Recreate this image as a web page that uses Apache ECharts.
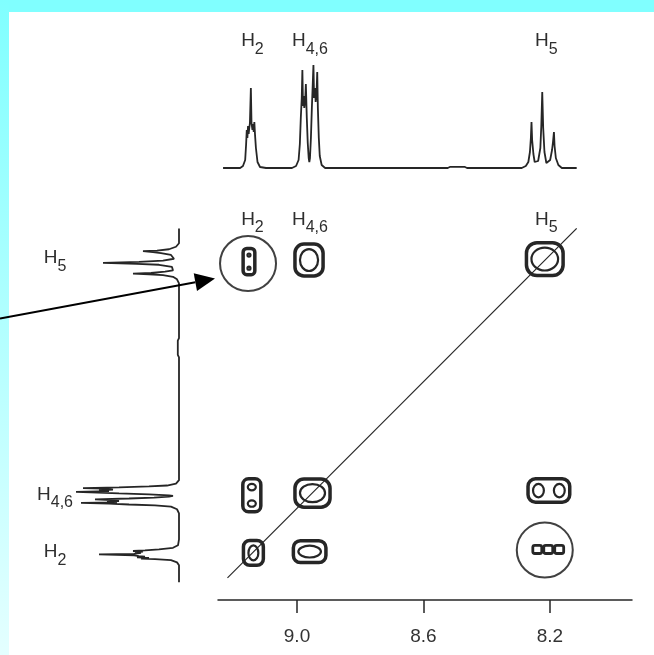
<!DOCTYPE html>
<html><head><meta charset="utf-8">
<script src="https://cdn.jsdelivr.net/npm/echarts@6/dist/echarts.min.js"></script>
<style>
html,body{margin:0;padding:0;background:#fff;overflow:hidden;}
#bandTop{position:absolute;left:0;top:0;width:654px;height:12px;background:#80ffff;}
#bandLeft{position:absolute;left:0;top:0;width:9px;height:655px;background:linear-gradient(#80ffff,#e4ffff);}
#main{position:absolute;left:0;top:0;width:654px;height:655px;}
</style></head><body>
<div id="bandTop"></div><div id="bandLeft"></div><div id="main"></div>
<script>
// ---- data ----
const labelSub = ['2', '4,6', '5'];            // H2, H4,6, H5
const labelPpm = [9.141, 8.959, 8.211];
const tickValues = [9.0, 8.6, 8.2];
// 1D spectrum trace (ppm, intensity)
const tracePpm = [9.234,9.180,9.171,9.164,9.161,9.159,9.157,9.155,9.153,9.151,9.149,9.146,9.144,9.141,9.139,9.137,9.135,9.133,9.130,9.125,9.117,9.098,
  9.016,9.003,8.995,8.991,8.988,8.985,8.983,8.981,8.979,8.977,8.974,8.972,8.969,8.966,8.963,8.961,8.959,8.956,8.953,8.948,8.946,8.943,8.941,8.938,8.936,8.934,8.931,8.928,8.922,8.911,
  8.523,8.515,8.470,8.462,
  8.289,8.276,8.268,8.263,8.260,8.258,8.256,8.252,8.248,8.243,8.237,8.230,8.227,8.224,8.221,8.217,8.211,8.205,8.199,8.193,8.190,8.187,8.185,8.181,8.173,8.162,8.115];
const traceInt = [0,0,2,8,24,38,30,42,34,40,45,80,45,38,44,36,46,34,20,6,1,0,
  0,2,8,24,50,70,98,62,72,60,68,84,50,25,10,6,10,30,60,103,70,80,66,76,96,60,30,12,3,0,
  0,1.2,1.2,0,
  0,2,6,16,30,46,28,14,6,4,7,20,42,76,40,16,5,4,8,18,26,36,22,10,3,0,0];
// COSY cross peaks: centre (F2, F1) and extent in ppm
const crossX = [9.152, 8.962, 8.216, 9.143, 8.951, 8.203, 9.138, 8.960, 8.205];
const crossY = [8.220, 8.215, 8.212, 8.959, 8.952, 8.944, 9.141, 9.137, 9.130];
const crossW = [0.037, 0.089, 0.116, 0.057, 0.111, 0.132, 0.063, 0.103, 0.104];
const crossH = [0.083, 0.101, 0.104, 0.104, 0.089, 0.074, 0.079, 0.069, 0.026];
const diagPpm = [9.22, 8.115];
const circleX = [9.155, 8.216];
const circleY = [8.226, 9.132];

// ---- chart ----
const FF = '"Liberation Sans", Arial, Helvetica, sans-serif';
const INK = '#262626';
const chart = echarts.init(document.getElementById('main'), null, {renderer: 'canvas'});

function richLabel(sub, x, y) {
  return {
    type: 'text',
    style: {
      text: '{h|H}{s|' + sub + '}', x: x, y: y, align: 'center', verticalAlign: 'middle',
      rich: {
        h: {fontSize: 19, fontFamily: FF, fill: '#2e2e2e', padding: [0, 0, 7, 0], verticalAlign: 'top'},
        s: {fontSize: 16, fontFamily: FF, fill: '#2e2e2e', verticalAlign: 'bottom'}
      }
    }
  };
}

function renderCross(params, api) {
  const c = api.coord([api.value(0), api.value(1)]);
  const s = api.size([api.value(2), api.value(3)]);
  const w = Math.abs(s[0]), h = Math.abs(s[1]);
  const nx = Math.max(1, Math.min(3, Math.round(w / h)));
  const ny = Math.max(1, Math.min(3, Math.round(h / w)));
  const children = [];
  const x0 = c[0] - w / 2, y0 = c[1] - h / 2;
  if (nx < 3) {
    children.push({type: 'rect', shape: {x: x0, y: y0, width: w, height: h, r: Math.min(w, h) * 0.32},
      style: {fill: 'none', stroke: INK, lineWidth: 3.5}});
  }
  const lw = w / nx, lh = h / ny;
  for (let i = 0; i < nx; i++) {
    for (let j = 0; j < ny; j++) {
      const cx = x0 + lw * (i + 0.5), cy = y0 + lh * (j + 0.5);
      if (nx >= 3) {
        children.push({type: 'rect', shape: {x: cx - lw / 2 + 1, y: y0, width: lw - 2, height: h, r: 2},
          style: {fill: 'none', stroke: INK, lineWidth: 2.8}});
      } else {
        children.push({type: 'ellipse', shape: {cx: cx, cy: cy, rx: Math.max(1.5, lw / 2 - 5), ry: Math.max(1.5, lh / 2 - 5)},
          style: {fill: 'none', stroke: INK, lineWidth: 2.2}});
      }
    }
  }
  return {type: 'group', children: children};
}

const option = {
  backgroundColor: 'transparent',
  animation: false,
  grid: [
    {left: 218, top: 211, width: 414, height: 389},   // 2D map
    {left: 218, top: 30, width: 414, height: 138},    // top 1D
    {left: 40, top: 211, width: 139, height: 389}     // left 1D
  ],
  xAxis: [
    {type: 'value', gridIndex: 0, min: 7.94, max: 9.25, inverse: true,
     axisLine: {show: true, lineStyle: {color: INK, width: 1.5}},
     axisTick: {show: true, length: 13, customValues: tickValues, lineStyle: {color: INK, width: 1.5}},
     axisLabel: {show: true, customValues: tickValues, margin: 27, fontSize: 19, fontFamily: FF, color: '#333',
       formatter: v => v.toFixed(1)},
     splitLine: {show: false}},
    {type: 'value', gridIndex: 1, min: 7.94, max: 9.25, inverse: true, show: false},
    {type: 'value', gridIndex: 2, min: 0, max: 139, inverse: true, show: false}
  ],
  yAxis: [
    {type: 'value', gridIndex: 0, min: 8.06, max: 9.29, inverse: true, show: false},
    {type: 'value', gridIndex: 1, min: 0, max: 138, show: false},
    {type: 'value', gridIndex: 2, min: 8.06, max: 9.29, inverse: true, show: false}
  ],
  series: [
    {type: 'line', xAxisIndex: 1, yAxisIndex: 1, showSymbol: false, silent: true,
     data: tracePpm.map((p, i) => [p, traceInt[i]]),
     lineStyle: {color: INK, width: 1.8}},
    {type: 'line', xAxisIndex: 2, yAxisIndex: 2, showSymbol: false, silent: true,
     data: tracePpm.map((p, i) => [traceInt[i], p]),
     lineStyle: {color: INK, width: 1.8}},
    {type: 'line', xAxisIndex: 0, yAxisIndex: 0, showSymbol: false, silent: true,
     data: diagPpm.map(p => [p, p]), lineStyle: {color: INK, width: 1.2}},
    {type: 'custom', xAxisIndex: 0, yAxisIndex: 0, silent: true,
     data: crossX.map((x, i) => [x, crossY[i], crossW[i], crossH[i]]),
     renderItem: renderCross},
    {type: 'scatter', xAxisIndex: 0, yAxisIndex: 0, silent: true,
     data: circleX.map((x, i) => [x, circleY[i]]), symbol: 'circle', symbolSize: [56, 55],
     itemStyle: {color: 'rgba(0,0,0,0)', borderColor: '#111', borderWidth: 2}},
    // labels over top spectrum
    {type: 'custom', xAxisIndex: 1, yAxisIndex: 1, silent: true,
     data: labelPpm.map((p, i) => [p, i]),
     renderItem: (params, api) => richLabel(labelSub[api.value(1)], api.coord([api.value(0), 0])[0], params.coordSys.y + 14.5)},
    // labels over 2D map
    {type: 'custom', xAxisIndex: 0, yAxisIndex: 0, silent: true,
     data: labelPpm.map((p, i) => [p, 8.5, i]),
     renderItem: (params, api) => richLabel(labelSub[api.value(2)], api.coord([api.value(0), 8.5])[0], params.coordSys.y + 12)},
    // labels beside left spectrum
    {type: 'custom', xAxisIndex: 2, yAxisIndex: 2, silent: true,
     data: labelPpm.map((p, i) => [0, p, i]),
     renderItem: (params, api) => richLabel(labelSub[api.value(2)], params.coordSys.x + 15, api.coord([0, api.value(1)])[1] + 2.5)}
  ]
};
chart.setOption(option);

// arrow pointing at the first circled cross peak
const cp = chart.convertToPixel({seriesIndex: 4}, [circleX[0], circleY[0]]);
const tip = [cp[0] - 33, cp[1] + 15];
const start = [0, cp[1] + 55];
const dx = tip[0] - start[0], dy = tip[1] - start[1], len = Math.hypot(dx, dy);
const ux = dx / len, uy = dy / len, nx = -uy, ny = ux;
const L = 20, Wd = 9;
const bx = tip[0] - ux * L, by = tip[1] - uy * L;
chart.setOption({
  graphic: [
    {type: 'line', shape: {x1: start[0], y1: start[1], x2: bx, y2: by}, style: {stroke: '#000', lineWidth: 2}, z: 100},
    {type: 'polygon', shape: {points: [tip, [bx + nx * Wd, by + ny * Wd], [bx - nx * Wd, by - ny * Wd]]}, style: {fill: '#000'}, z: 100}
  ]
});
</script>
</body></html>
